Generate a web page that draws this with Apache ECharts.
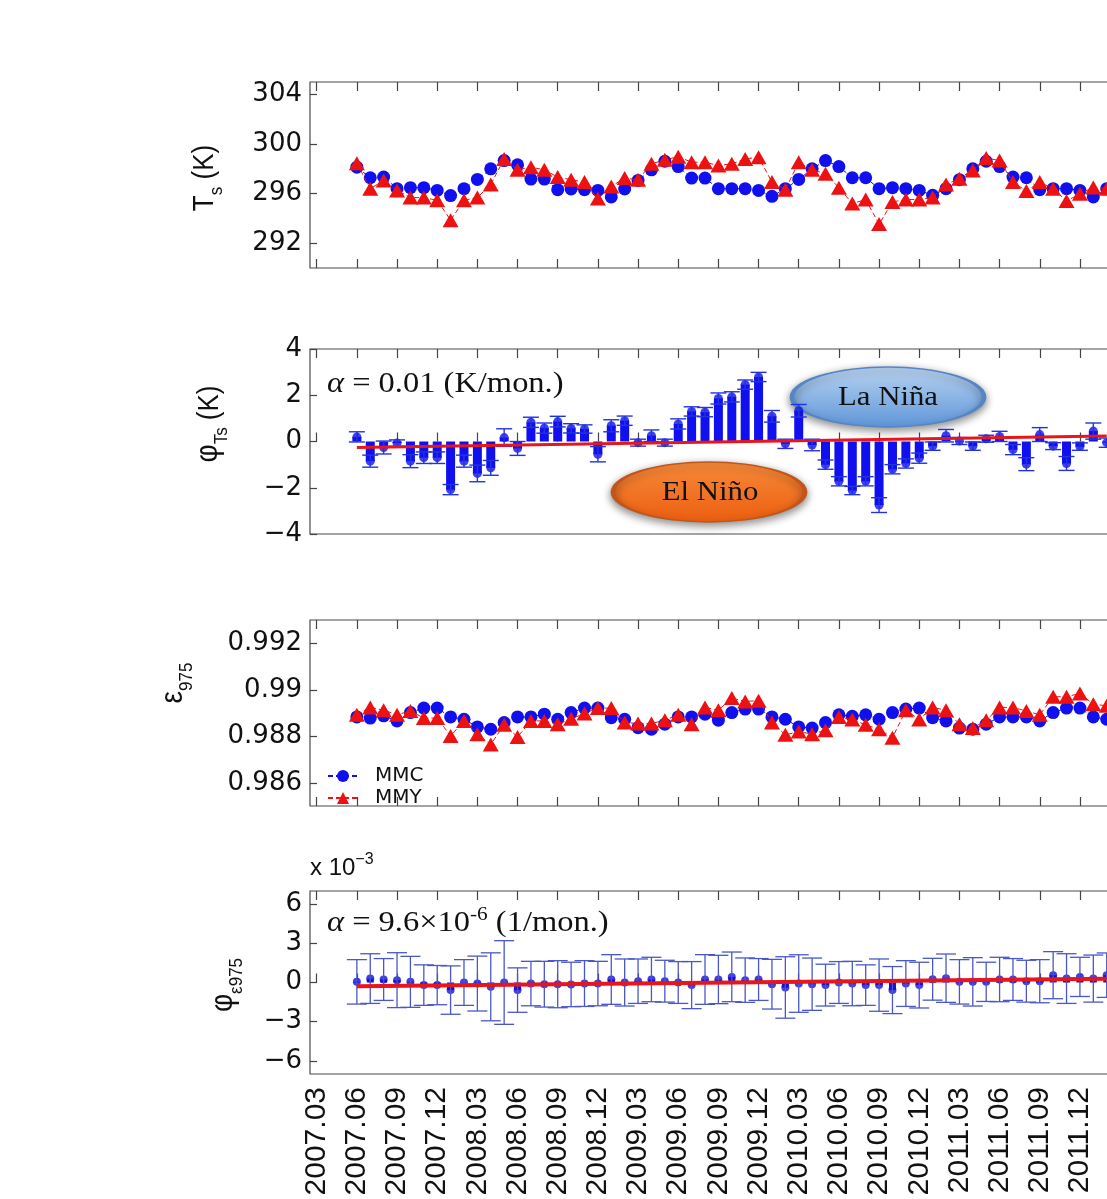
<!DOCTYPE html>
<html><head><meta charset="utf-8">
<script src="https://cdn.jsdelivr.net/npm/echarts@6/dist/echarts.min.js"></script>
<style>html,body{margin:0;padding:0;overflow:hidden;background:#fff}#c{width:1300px;height:1199px}</style>
</head><body><div id="c"></div><script>
// ---- categories (months) ----
const months = ['2007.03','2007.04','2007.05','2007.06','2007.07','2007.08','2007.09','2007.10','2007.11','2007.12',
 '2008.01','2008.02','2008.03','2008.04','2008.05','2008.06','2008.07','2008.08','2008.09','2008.10','2008.11','2008.12',
 '2009.01','2009.02','2009.03','2009.04','2009.05','2009.06','2009.07','2009.08','2009.09','2009.10','2009.11','2009.12',
 '2010.01','2010.02','2010.03','2010.04','2010.05','2010.06','2010.07','2010.08','2010.09','2010.10','2010.11','2010.12',
 '2011.01','2011.02','2011.03','2011.04','2011.05','2011.06','2011.07','2011.08','2011.09','2011.10','2011.11','2011.12',
 '2012.01','2012.02','2012.03','2012.04','2012.05','2012.06','2012.07','2012.08'];
const firstMonth = '2007.06';
const lastMonth = '2012.02';

// ---- Panel 1: surface temperature Ts (K) ----
const tsMMC = [298.13,297.28,297.33,296.40,296.48,296.48,296.26,295.84,296.40,297.14,298.00,298.66,
 298.32,297.17,297.17,296.32,296.37,296.32,296.26,295.73,296.37,297.06,297.92,298.61,
 298.18,297.25,297.25,296.40,296.40,296.40,296.26,295.78,296.40,297.14,298.00,298.66,
 298.18,297.28,297.28,296.40,296.48,296.40,296.26,295.86,296.40,297.12,298.00,298.61,
 298.18,297.33,297.28,296.32,296.40,296.40,296.26,295.73,296.40];
const tsMMY = [298.45,296.40,297.06,296.26,295.68,295.68,295.46,293.86,295.46,295.68,296.74,298.80,
 297.92,298.13,297.92,297.33,297.12,296.93,295.60,296.58,297.25,297.12,298.40,298.72,
 298.98,298.53,298.53,298.26,298.40,298.80,298.93,296.93,296.32,298.53,297.92,297.60,
 296.48,295.20,295.52,293.54,295.33,295.52,295.52,295.68,296.74,297.20,297.86,298.88,
 298.66,296.93,296.21,296.93,296.40,295.40,295.98,296.50,296.40];
const tsTicks = [292,296,300,304];

// ---- Panel 2: phi_Ts (K) with error ----
const phiTs = [0.20,-0.85,-0.26,-0.07,-0.85,-0.70,-0.70,-2.08,-0.85,-1.38,-1.14,0.17,
 -0.30,0.83,0.58,0.86,0.57,0.54,-0.55,0.68,0.90,-0.05,0.25,-0.05,
 0.76,1.30,1.27,1.86,1.93,2.46,2.79,1.09,-0.10,1.33,-0.15,-1.00,
 -1.72,-2.12,-1.72,-2.75,-1.20,-0.95,-0.72,-0.20,0.25,0.02,-0.20,0.12,
 0.22,-0.35,-0.98,0.30,-0.20,-0.95,-0.22,0.45,-0.05];
const phiTsErr = [0.22,0.26,0.28,0.14,0.28,0.25,0.25,0.22,0.26,0.36,0.32,0.38,
 0.30,0.22,0.22,0.23,0.20,0.18,0.33,0.26,0.20,0.15,0.25,0.15,
 0.22,0.20,0.20,0.24,0.22,0.20,0.20,0.25,0.20,0.27,0.25,0.20,
 0.20,0.18,0.20,0.32,0.20,0.20,0.22,0.18,0.27,0.15,0.18,0.15,
 0.22,0.22,0.28,0.30,0.15,0.30,0.16,0.35,0.20];
const trendTs = [-0.26, 0.24];
const phiTsTicks = [-4,-2,0,2,4];

// ---- Panel 3: emissivity eps975 ----
const epsMMC = [0.98883,0.98878,0.98888,0.98866,0.98902,0.98921,0.98921,0.98883,0.98873,0.98840,0.98830,0.98859,
 0.98883,0.98883,0.98895,0.98873,0.98902,0.98921,0.98921,0.98880,0.98873,0.98837,0.98830,0.98852,
 0.98883,0.98883,0.98895,0.98869,0.98902,0.98917,0.98917,0.98883,0.98873,0.98840,0.98835,0.98859,
 0.98892,0.98886,0.98892,0.98873,0.98902,0.98917,0.98921,0.98880,0.98866,0.98835,0.98830,0.98852,
 0.98883,0.98883,0.98883,0.98866,0.98902,0.98921,0.98921,0.98883,0.98873];
const epsMMY = [0.98892,0.98924,0.98912,0.98892,0.98909,0.98878,0.98878,0.98801,0.98866,0.98809,0.98765,0.98849,
 0.98797,0.98866,0.98866,0.98852,0.98875,0.98898,0.98921,0.98921,0.98859,0.98855,0.98855,0.98869,
 0.98892,0.98852,0.98924,0.98912,0.98964,0.98950,0.98953,0.98859,0.98806,0.98820,0.98809,0.98826,
 0.98883,0.98872,0.98849,0.98830,0.98794,0.98912,0.98872,0.98924,0.98912,0.98852,0.98835,0.98869,
 0.98924,0.98924,0.98909,0.98892,0.98970,0.98970,0.98984,0.98938,0.98931];
const epsTicks = [0.986,0.988,0.99,0.992];

// ---- Panel 4: phi_eps975 (x 10^-3) with error ----
const phiEps = [0.05,0.30,0.23,0.18,0.05,-0.20,-0.20,-0.58,0.00,-0.08,-0.33,0.00,
 -0.58,-0.08,-0.13,-0.13,-0.15,-0.08,-0.08,0.23,0.00,0.10,0.23,0.10,
 0.00,-0.20,0.23,0.23,0.43,0.18,0.23,-0.13,-0.38,-0.08,-0.13,-0.20,
 0.00,-0.08,-0.20,-0.20,-0.58,-0.08,-0.20,0.25,0.33,0.05,0.05,0.05,
 0.23,0.23,0.10,0.10,0.56,0.30,0.43,0.30,0.56];
const phiEpsErr = [1.70,1.90,1.60,2.10,1.95,1.55,1.50,1.85,1.75,2.10,2.60,3.20,
 1.70,1.70,1.75,1.80,1.70,1.75,1.70,1.90,1.80,1.70,1.70,1.60,
 1.60,1.80,1.90,1.85,1.90,1.70,1.60,1.90,2.35,2.20,2.00,1.60,
 1.60,1.70,1.55,2.00,1.80,1.75,1.75,1.60,1.85,1.70,1.85,1.50,
 1.70,1.60,1.60,1.65,1.80,1.90,1.50,1.80,1.70];
const trendEps = [-0.28, 0.28];
const phiEpsTicks = [-6,-3,0,3,6];

// ---- build ----
const off = months.indexOf(firstMonth);
const endIdx = months.indexOf(lastMonth);
const pair = arr => arr.map((v, k) => [off + k, v]);
const triple = (arr, err) => arr.map((v, k) => [off + k, v, err[k]]);

const BAND = 13.39, GL = 310, GW = months.length * BAND;
const grids = [[82,186],[349,185],[620,186],[891,183]].map(([t,h]) => ({
  left: GL, top: t, width: GW, height: h, show: true, borderColor: '#4a4a4a', borderWidth: 1.2, backgroundColor: 'transparent'
}));

const tickEvery3 = (i) => i % 3 === 0;
function mkX(k, pos, labels) {
  return {
    type: 'category', gridIndex: k, position: pos, data: months, boundaryGap: true,
    axisLine: { show: false },
    axisTick: { show: true, inside: true, length: 9, alignWithLabel: true, interval: tickEvery3, lineStyle: { color: '#444', width: 1.2 } },
    axisLabel: labels ? { show: true, rotate: 90, interval: tickEvery3, fontSize: 30, fontFamily: 'Liberation Sans', color: '#111', margin: 13 } : { show: false },
    splitLine: { show: false }
  };
}
const minus = v => String(v).replace('-', '\u2212');
function mkY(k, min, max, ticks, fmt) {
  return {
    type: 'value', gridIndex: k, min, max,
    axisLine: { show: false }, splitLine: { show: false },
    axisTick: { show: true, inside: true, length: 7, customValues: ticks, lineStyle: { color: '#444', width: 1.2 } },
    axisLabel: { show: true, customValues: ticks, formatter: fmt, fontSize: 26, fontFamily: 'DejaVu Sans', color: '#111', margin: 8 }
  };
}
const xAxes = [];
for (let k = 0; k < 4; k++) { xAxes.push(mkX(k, 'bottom', k === 3)); xAxes.push(mkX(k, 'top', false)); }
const yAxes = [
  mkY(0, 290, 305, tsTicks, v => String(v)),
  mkY(1, -4, 4, phiTsTicks, minus),
  mkY(2, 0.985, 0.993, epsTicks, v => String(+(+v).toFixed(3))),
  mkY(3, -7, 7, phiEpsTicks, minus)
];

const BLUE = '#1010ee', RED = '#ee1111';
function errRender(capW, color, lw) {
  return function (params, api) {
    const x = api.value(0), v = api.value(1), e = api.value(2);
    const t = api.coord([x, v + e]), b = api.coord([x, v - e]);
    const h = capW / 2, st = { stroke: color, lineWidth: lw };
    return { type: 'group', children: [
      { type: 'line', shape: { x1: t[0], y1: t[1], x2: b[0], y2: b[1] }, style: st },
      { type: 'line', shape: { x1: t[0] - h, y1: t[1], x2: t[0] + h, y2: t[1] }, style: st },
      { type: 'line', shape: { x1: b[0] - h, y1: b[1], x2: b[0] + h, y2: b[1] }, style: st }
    ]};
  };
}
function mmcSeries(xi, yi, data) {
  return { name: 'MMC', type: 'line', xAxisIndex: xi, yAxisIndex: yi, data: pair(data), symbol: 'circle', symbolSize: 13,
    showSymbol: true, showAllSymbol: true,
    itemStyle: { color: BLUE }, lineStyle: { color: BLUE, width: 1, type: [5, 3] }, z: 3, animation: false };
}
function mmySeries(xi, yi, data) {
  return { name: 'MMY', type: 'line', xAxisIndex: xi, yAxisIndex: yi, data: pair(data), symbol: 'triangle', symbolSize: [16, 14],
    showSymbol: true, showAllSymbol: true,
    itemStyle: { color: RED }, lineStyle: { color: RED, width: 1, type: [5, 3] }, z: 4, animation: false };
}
const series = [
  mmcSeries(0, 0, tsMMC), mmySeries(0, 0, tsMMY),
  { type: 'bar', xAxisIndex: 2, yAxisIndex: 1, data: pair(phiTs), barWidth: 9, itemStyle: { color: BLUE }, z: 2, animation: false },
  { type: 'scatter', xAxisIndex: 2, yAxisIndex: 1, data: pair(phiTs), symbolSize: 9, itemStyle: { color: BLUE }, z: 3, animation: false },
  { type: 'custom', xAxisIndex: 2, yAxisIndex: 1, data: triple(phiTs, phiTsErr), renderItem: errRender(16, '#2233dd', 1.4), encode: { x: 0, y: 1 }, z: 4, animation: false },
  { type: 'line', xAxisIndex: 2, yAxisIndex: 1, data: [[off, trendTs[0]], [endIdx, trendTs[1]]], symbol: 'none', lineStyle: { color: '#e8151b', width: 3 }, z: 10, animation: false },
  mmcSeries(4, 2, epsMMC), mmySeries(4, 2, epsMMY),
  { type: 'bar', xAxisIndex: 6, yAxisIndex: 3, data: pair(phiEps), barWidth: 7, itemStyle: { color: '#1212d8' }, z: 2, animation: false },
  { type: 'scatter', xAxisIndex: 6, yAxisIndex: 3, data: pair(phiEps), symbolSize: 8, itemStyle: { color: '#1212d8' }, z: 3, animation: false },
  { type: 'custom', xAxisIndex: 6, yAxisIndex: 3, data: triple(phiEps, phiEpsErr), renderItem: errRender(20, '#4a57c8', 1.3), encode: { x: 0, y: 1 }, z: 4, animation: false },
  { type: 'line', xAxisIndex: 6, yAxisIndex: 3, data: [[off, trendEps[0]], [endIdx, trendEps[1]]], symbol: 'none', lineStyle: { color: '#e8151b', width: 4 }, z: 10, animation: false }
];

const LS = 'Liberation Sans', SR = 'Liberation Serif';
function richName(x, y, text, rich) {
  return { type: 'text', x, y, rotation: Math.PI / 2, scaleY: 1.12, z: 5,
    style: { text, align: 'center', verticalAlign: 'middle', rich } };
}
const nameRich = {
  m: { fontSize: 26, fontFamily: LS, fill: '#111', verticalAlign: 'bottom', padding: [0, 0, 6, 0] },
  g: { fontSize: 28, fontFamily: LS, fill: '#111', verticalAlign: 'bottom', padding: [0, 0, 6, 0] },
  s: { fontSize: 17, fontFamily: LS, fill: '#111', verticalAlign: 'bottom' }
};
const serifRich = (fs) => ({
  i: { fontSize: fs, fontFamily: SR, fontStyle: 'italic', fill: '#111', verticalAlign: 'bottom' },
  n: { fontSize: fs, fontFamily: SR, fill: '#111', verticalAlign: 'bottom' },
  p: { fontSize: Math.round(fs * 0.65), fontFamily: SR, fill: '#111', verticalAlign: 'bottom', padding: [0, 0, 13, 0] }
});
function ellipse(cx, cy, rx, ry, fill, stroke) {
  return { type: 'circle', x: cx, y: cy, scaleX: rx / ry, shape: { cx: 0, cy: 0, r: ry }, z: 1,
    style: { fill, stroke, lineWidth: 1.5, strokeNoScale: true, shadowBlur: 8, shadowColor: 'rgba(0,0,0,0.45)', shadowOffsetY: 3 } };
}
const graphic = [
  richName(208, 178, '{m|T}{s|s}{m| (K)}', nameRich),
  richName(212, 424, '{g|φ}{s|Ts}{m| (K)}', nameRich),
  richName(177, 683, '{g|ε}{s|975}', nameRich),
  richName(227, 985, '{g|φ}{s|ε975}', nameRich),
  { type: 'text', x: 310, y: 880, z: 5, style: { text: '{m|x 10}{p|\u22123}', align: 'left', verticalAlign: 'bottom',
    rich: { m: { fontSize: 24, fontFamily: LS, fill: '#111', verticalAlign: 'bottom' },
            p: { fontSize: 16, fontFamily: LS, fill: '#111', verticalAlign: 'bottom', padding: [0, 0, 12, 0] } } } },
  { type: 'text', x: 327, y: 384, scaleX: 1.12, z: 5, style: { text: '{i|α}{n| = 0.01 (K/mon.)}', align: 'left', verticalAlign: 'middle', rich: serifRich(29) } },
  { type: 'text', x: 327, y: 922, scaleX: 1.12, z: 5, style: { text: '{i|α}{n| = 9.6×10}{p|-6}{n| (1/mon.)}', align: 'left', verticalAlign: 'middle', rich: serifRich(29) } },
  ellipse(709, 492, 96, 30, { type: 'linear', x: 0, y: 0, x2: 0, y2: 1, colorStops: [{ offset: 0, color: '#f78a3a' }, { offset: 1, color: '#ec5e10' }] }, '#c0561c'),
  { type: 'text', x: 710, y: 493, scaleX: 1.1, z: 2, style: { text: 'El Niño', align: 'center', verticalAlign: 'middle', fontSize: 28, fontFamily: SR, fill: '#111' } },
  ellipse(888, 397, 96, 30, { type: 'linear', x: 0, y: 0, x2: 0, y2: 1, colorStops: [{ offset: 0, color: '#b9d3f1' }, { offset: 1, color: '#5f96d9' }] }, '#5585c4'),
  { type: 'text', x: 888, y: 398, scaleX: 1.1, z: 2, style: { text: 'La Niña', align: 'center', verticalAlign: 'middle', fontSize: 28, fontFamily: SR, fill: '#111' } }
];

const chart = echarts.init(document.getElementById('c'), null, { renderer: 'canvas' });
chart.setOption({
  animation: false,
  backgroundColor: '#fff',
  grid: grids, xAxis: xAxes, yAxis: yAxes, series, graphic,
  legend: { data: ['MMC', 'MMY'], left: 322, top: 761, orient: 'vertical', itemGap: 2, itemWidth: 30, itemHeight: 15,
    selectedMode: false, textStyle: { fontSize: 20, fontFamily: 'DejaVu Sans', color: '#111', padding: [0, 0, 0, 12] } }
});
</script></body></html>
